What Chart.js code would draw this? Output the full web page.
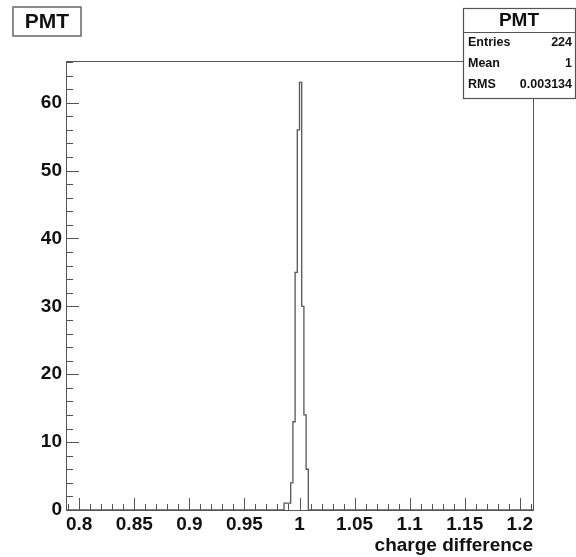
<!DOCTYPE html>
<html>
<head>
<meta charset="utf-8">
<script src="https://cdn.jsdelivr.net/npm/chart.js@4/dist/chart.umd.min.js"></script>
<style>
  html, body { margin: 0; padding: 0; background: #fff; }
  canvas { display: block; }
</style>
</head>
<body>
<canvas id="c" width="576" height="557"></canvas>
<script>
// histogram bins (low edge) and counts
const binLow = [0.986, 0.988, 0.990, 0.992, 0.994, 0.996, 0.998, 1.000, 1.002, 1.004, 1.006];
const counts = [1, 1, 1, 4, 13, 35, 56, 63, 30, 14, 6];
const binWidth = 0.002;
const xRange = [0.788, 1.212];
const yRange = [0, 66.15];
const histName = 'PMT';
const statNames = ['Entries', 'Mean', 'RMS'];
const statValues = ['224', '1', '0.003134'];
const xTitle = 'charge difference';

const FONT = '"Liberation Sans", Arial, Helvetica, sans-serif';
Chart.defaults.font.family = FONT;

// step outline, ROOT style
const pts = [{x: xRange[0], y: 0}];
binLow.forEach((lo, i) => pts.push({x: lo, y: counts[i]}));
pts.push({x: binLow[binLow.length - 1] + binWidth, y: 0});
pts.push({x: xRange[1], y: 0});

const rootDecor = {
  id: 'rootDecor',
  afterDatasetsDraw(chart) {
    const {ctx, chartArea: a, scales: {x, y}} = chart;
    ctx.save();
    ctx.strokeStyle = '#555';
    ctx.lineWidth = 1;
    ctx.strokeRect(Math.round(a.left) + 0.5, Math.round(a.top) + 0.5,
      Math.round(a.right - a.left), Math.round(a.bottom - a.top));

    // inward ticks
    ctx.beginPath();
    x.ticks.forEach(t => {
      const n = Math.round(t.value * 100);
      if (Math.abs(t.value * 100 - n) > 1e-6) return;
      const px = Math.round(x.getPixelForValue(t.value)) + 0.5;
      const len = n % 5 === 0 ? 12 : 6;
      ctx.moveTo(px, a.bottom);
      ctx.lineTo(px, a.bottom - len);
    });
    y.ticks.forEach(t => {
      const v = t.value;
      if (v === 0) return;
      const py = Math.round(y.getPixelForValue(v)) + 0.5;
      const len = v % 10 === 0 ? 13 : 7;
      ctx.moveTo(a.left, py);
      ctx.lineTo(a.left + len, py);
    });
    ctx.stroke();
    ctx.restore();
  },
  afterDraw(chart) {
    const {ctx} = chart;
    ctx.save();
    // title box
    ctx.fillStyle = '#fff';
    ctx.fillRect(13, 7, 68, 29);
    ctx.strokeStyle = '#666';
    ctx.lineWidth = 1.5;
    ctx.strokeRect(13, 7, 68, 29);
    ctx.fillStyle = '#111';
    ctx.font = 'bold 21px ' + FONT;
    ctx.textAlign = 'center';
    ctx.textBaseline = 'middle';
    ctx.fillText(histName, 47, 22);

    // stats box
    const bx = 463, by = 8, bw = 112, bh = 90;
    ctx.fillStyle = '#fff';
    ctx.fillRect(bx, by, bw, bh);
    ctx.strokeStyle = '#555';
    ctx.lineWidth = 1.2;
    ctx.strokeRect(bx + 0.5, by + 0.5, bw, bh);
    ctx.beginPath();
    ctx.moveTo(bx, 32.5);
    ctx.lineTo(bx + bw, 32.5);
    ctx.stroke();
    ctx.fillStyle = '#111';
    ctx.font = 'bold 19px ' + FONT;
    ctx.fillText(histName, bx + bw / 2, 21);
    ctx.font = 'bold 12.5px ' + FONT;
    statNames.forEach((name, i) => {
      const ty = 43 + i * 21;
      ctx.textAlign = 'left';
      ctx.fillText(name, bx + 5, ty);
      ctx.textAlign = 'right';
      ctx.fillText(statValues[i], bx + bw - 3, ty);
    });
    ctx.restore();
  }
};

new Chart(document.getElementById('c'), {
  type: 'line',
  data: {
    datasets: [{
      label: histName,
      data: pts,
      borderColor: '#555',
      borderWidth: 1.3,
      pointRadius: 0,
      fill: false,
      stepped: 'before',
      tension: 0,
    }]
  },
  options: {
    responsive: false,
    animation: false,
    layout: {padding: {top: 61, right: 43, left: 0, bottom: 0}},
    plugins: {legend: {display: false}, tooltip: {enabled: false}},
    scales: {
      x: {
        type: 'linear',
        min: xRange[0],
        max: xRange[1],
        grid: {display: false, drawTicks: false},
        border: {display: false},
        afterFit: s => { s.height = 47; },
        ticks: {
          stepSize: 0.01,
          includeBounds: false,
          autoSkip: false,
          maxRotation: 0,
          minRotation: 0,
          padding: 3,
          color: '#111',
          font: {size: 19, weight: 'bold'},
          callback: v => {
            const n = Math.round(v * 100);
            return (Math.abs(v * 100 - n) < 1e-6 && n % 5 === 0) ? String(n / 100) : '';
          }
        },
        title: {
          display: true,
          text: xTitle,
          align: 'end',
          color: '#111',
          font: {size: 19, weight: 'bold'},
          padding: {top: 0, bottom: 0}
        }
      },
      y: {
        min: yRange[0],
        max: yRange[1],
        grid: {display: false, drawTicks: false},
        border: {display: false},
        afterFit: s => { s.width = 66; },
        ticks: {
          stepSize: 2,
          includeBounds: false,
          autoSkip: false,
          padding: 4,
          color: '#111',
          font: {size: 19, weight: 'bold'},
          callback: v => (v % 10 === 0 ? String(v) : '')
        }
      }
    }
  },
  plugins: [rootDecor]
});
</script>
</body>
</html>
